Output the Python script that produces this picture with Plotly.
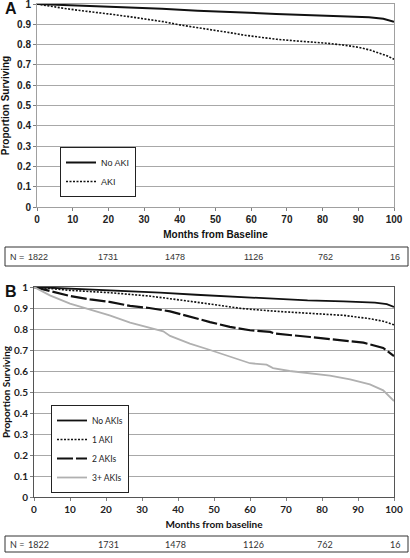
import plotly.graph_objects as go

W, H = 410, 558

# ---------------- data ----------------
# Panel A
a_no_aki_months = [0,10,20,26,35,45,51,60,67,75,86,93,97,100]
a_no_aki_surv = [1.0,0.994,0.988,0.985,0.977,0.967,0.962,0.956,0.951,0.946,0.941,0.935,0.927,0.913]

a_aki_months = [0,3,7.4,12,16.8,21,26.1,31,35.4,40,44.8,48.5,51.3,55,57.8,62,67.2,72,76.5,81,85.8,90,93.3,96,98,100]
a_aki_surv = [1.0,0.99,0.979,0.968,0.959,0.949,0.937,0.925,0.913,0.897,0.885,0.876,0.868,0.856,0.847,0.836,0.826,0.819,0.814,0.807,0.798,0.787,0.773,0.758,0.745,0.728]

# Panel B
b_no_months = [0,10,20,26.7,35,45,51.7,60,67.4,76,86,94.7,98,100]
b_no_surv = [1.0,0.993,0.985,0.98,0.973,0.963,0.957,0.948,0.941,0.936,0.932,0.926,0.918,0.905]

b_one_months = [0,5,10,21,32,43.3,48.9,51.7,58,67.4,76.7,86,93.3,97,100]
b_one_surv = [1.0,0.992,0.984,0.973,0.957,0.932,0.918,0.91,0.897,0.884,0.873,0.865,0.849,0.837,0.82]

b_two_months = [0,4.4,10,15.6,21,26.7,32,37.8,43.3,48.9,54.4,60,65.6,67,76.7,86,91.5,97,100]
b_two_surv = [1.0,0.98,0.957,0.941,0.929,0.91,0.90,0.884,0.857,0.833,0.81,0.794,0.786,0.778,0.762,0.746,0.735,0.71,0.671]

b_three_months = [0,4.4,10,15.6,21,26.7,32,35.9,37.8,43.3,48.9,54.4,60,64.6,66.4,71,76.7,82.2,87.8,93.3,97,100]
b_three_surv = [1.0,0.96,0.921,0.894,0.865,0.83,0.805,0.789,0.767,0.73,0.70,0.668,0.637,0.63,0.614,0.60,0.59,0.578,0.56,0.536,0.508,0.457]

x_ticks = [0,10,20,30,40,50,60,70,80,90,100]
n_at_risk = [1822, 1731, 1478, 1126, 762, 16]

# ---------------- layout helpers ----------------
def px_x(p):
    return p / W

def px_y(p):
    return 1 - p / H

FA = "Liberation Sans"
FB = "Lato"

fig = go.Figure()

fig.add_trace(go.Scatter(x=a_no_aki_months, y=a_no_aki_surv, mode="lines", name="No AKI",
                         line=dict(color="#111111", width=2), xaxis="x", yaxis="y", legend="legend"))
fig.add_trace(go.Scatter(x=a_aki_months, y=a_aki_surv, mode="lines", name="AKI",
                         line=dict(color="#111111", width=1.6, dash="2px,1.5px"), xaxis="x", yaxis="y", legend="legend"))

fig.add_trace(go.Scatter(x=b_no_months, y=b_no_surv, mode="lines", name="No AKIs",
                         line=dict(color="#111111", width=1.8), xaxis="x2", yaxis="y2", legend="legend2"))
fig.add_trace(go.Scatter(x=b_one_months, y=b_one_surv, mode="lines", name="1 AKI",
                         line=dict(color="#111111", width=1.6, dash="2px,1.5px"), xaxis="x2", yaxis="y2", legend="legend2"))
fig.add_trace(go.Scatter(x=b_two_months, y=b_two_surv, mode="lines", name="2 AKIs",
                         line=dict(color="#111111", width=2.2, dash="16px,3px"), xaxis="x2", yaxis="y2", legend="legend2"))
fig.add_trace(go.Scatter(x=b_three_months, y=b_three_surv, mode="lines", name="3+ AKIs",
                         line=dict(color="#b0b0b0", width=1.8), xaxis="x2", yaxis="y2", legend="legend2"))

common_x = dict(range=[0, 100], tickvals=x_ticks, ticks="outside", ticklen=3, showgrid=False,
                showline=True, mirror=True, zeroline=False, automargin=False,
                ticklabeloverflow="allow")
common_y = dict(range=[0, 1], dtick=0.1, tick0=0, ticks="outside", ticklen=3, showgrid=True,
                showline=True, mirror=True, zeroline=False, automargin=False,
                ticklabeloverflow="allow")

fig.update_layout(
    width=W, height=H,
    margin=dict(l=0, r=0, t=0, b=0),
    paper_bgcolor="white", plot_bgcolor="white",
    showlegend=True,
    xaxis=dict(**common_x, domain=[px_x(37), px_x(394)], anchor="y",
               linecolor="#a0a0a0", tickcolor="#808080",
               tickfont=dict(family=FA, size=10, color="#222", weight="bold"),
               title=dict(text="Months from Baseline", standoff=6,
                          font=dict(family=FA, size=10, color="#111", weight="bold"))),
    yaxis=dict(**common_y, domain=[px_y(207), px_y(4)], anchor="x",
               linecolor="#a0a0a0", tickcolor="#808080", gridcolor="#a8a8a8",
               tickfont=dict(family=FA, size=10, color="#222", weight="bold"),
               title=dict(text="Proportion Surviving", standoff=6,
                          font=dict(family=FA, size=10, color="#111", weight="bold"))),
    xaxis2=dict(**common_x, domain=[px_x(34), px_x(394)], anchor="y2",
                linecolor="#555555", tickcolor="#808080",
                tickfont=dict(family=FB, size=10, color="#222", weight="bold"),
                title=dict(text="Months from baseline", standoff=6,
                           font=dict(family=FB, size=10, color="#111", weight="bold"))),
    yaxis2=dict(**common_y, domain=[px_y(497), px_y(287)], anchor="x2",
                linecolor="#555555", tickcolor="#808080", gridcolor="#a8a8a8",
                tickfont=dict(family=FB, size=10, color="#222", weight="bold"),
                title=dict(text="Proportion Surviving", standoff=6,
                           font=dict(family=FB, size=10, color="#111", weight="bold"))),
    legend=dict(x=px_x(60), y=px_y(147), xanchor="left", yanchor="top",
                bordercolor="#222", borderwidth=1, bgcolor="white",
                font=dict(family=FA, size=9, color="#222"), itemwidth=30, tracegroupgap=0),
    legend2=dict(x=px_x(51), y=px_y(405), xanchor="left", yanchor="top",
                 bordercolor="#222", borderwidth=1, bgcolor="white",
                 font=dict(family=FB, size=8.5, color="#222"), itemwidth=30, tracegroupgap=0),
)

# N-at-risk boxes
text_x = [38, 108, 175, 253, 325, 395]
shapes = []
annotations = []
for (top, bot, fam) in [(247, 266, FA), (536, 552, FB)]:
    shapes.append(dict(type="rect", xref="paper", yref="paper",
                       x0=px_x(5), x1=px_x(408), y0=px_y(bot), y1=px_y(top),
                       line=dict(color="#333", width=1), fillcolor="rgba(0,0,0,0)"))
    yc = px_y((top + bot) / 2)
    annotations.append(dict(text="N =", x=px_x(8), y=yc, xref="paper", yref="paper",
                            xanchor="left", yanchor="middle", showarrow=False,
                            font=dict(family=fam, size=9, color="#333")))
    for xv, n in zip(text_x, n_at_risk):
        annotations.append(dict(text=str(n), x=px_x(xv), y=yc, xref="paper", yref="paper",
                                xanchor="center", yanchor="middle", showarrow=False,
                                font=dict(family=fam, size=9, color="#333")))

annotations.append(dict(text="<b>A</b>", x=px_x(3), y=px_y(9), xref="paper", yref="paper",
                        xanchor="left", yanchor="middle", showarrow=False,
                        font=dict(family=FA, size=16, color="#111")))
annotations.append(dict(text="<b>B</b>", x=px_x(3), y=px_y(291), xref="paper", yref="paper",
                        xanchor="left", yanchor="middle", showarrow=False,
                        font=dict(family=FA, size=16, color="#111")))

fig.update_layout(shapes=shapes, annotations=annotations)

fig.write_html("out.html", config={"displayModeBar": False},
               post_script="document.body.style.margin='0';document.body.style.overflow='hidden';")
